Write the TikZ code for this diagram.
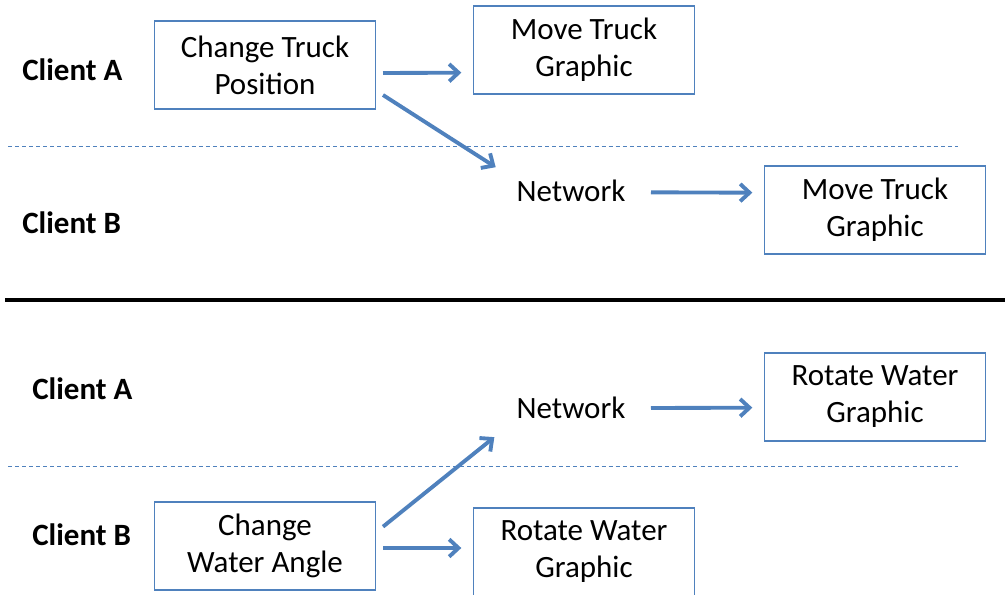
\documentclass[tikz,border=0pt]{standalone}
\usepackage{fontspec}
\setmainfont{Carlito}
\usetikzlibrary{arrows.meta,calc}
\definecolor{obl}{HTML}{4F81BD}
\tikzset{
  box/.style={draw=obl, line width=1pt, minimum width=166pt, minimum height=66pt, align=center, inner sep=0pt, font=\fontsize{23.25}{27.75}\selectfont},
  txt/.style={inner sep=0pt, align=center, font=\fontsize{23.25}{27.75}\selectfont},
  client/.style={inner sep=0pt, anchor=west, font=\fontsize{23.25}{27.75}\selectfont\bfseries},
  flow/.style={draw=obl, line width=2.9pt, -{Straight Barb[length=7pt,width=13pt,line width=2.9pt]}},
  sep/.style={draw=obl, line width=0.75pt, dash pattern=on 3pt off 2.3pt},
}
\begin{document}
\begin{tikzpicture}[x=0.75pt,y=-0.75pt]
\useasboundingbox (0,0) rectangle (1005,594);
% separators
\coordinate (d1l) at (8,146); \coordinate (d1r) at (958,146);
\coordinate (d2l) at (8,466); \coordinate (d2r) at (958,466);
\coordinate (sl) at (5,300); \coordinate (sr) at (1005,300);
\draw[sep] (d1l) -- (d1r);
\draw[sep] (d2l) -- (d2r);
\draw[line width=3pt] (sl) -- (sr);
% top half
\node[client] (ca1) at (22,70) {Client A};
\node[client] (cb1) at (22,223) {Client B};
\node[box] (ctp) at (265,65) {Change Truck\\Position};
\node[box] (mt1) at (584,50) {Move Truck\\Graphic};
\node[txt] (net1) at (571,191) {Network};
\node[box] (mt2) at (875,210) {Move Truck\\Graphic};
\draw[flow] ([xshift=5pt,yshift=-6pt]ctp.east) -- ([xshift=-8.5pt,yshift=-17pt]mt1.west);
\draw[flow] ([xshift=5pt,yshift=-22.5pt]ctp.east) -- ([xshift=-15.5pt,yshift=9.5pt]net1.north west);
\draw[flow] ([xshift=19pt,yshift=-1pt]net1.east) -- ([xshift=-8.5pt,yshift=13pt]mt2.west);
% bottom half
\node[client] (ca2) at (32,389) {Client A};
\node[client] (cb2) at (32,535) {Client B};
\node[box] (cwa) at (265,546) {Change\\Water Angle};
\node[txt] (net2) at (571,408) {Network};
\node[box] (rw1) at (875,397) {Rotate Water\\Graphic};
\node[box] (rw2) at (584,552) {Rotate Water\\Graphic};
\draw[flow] ([xshift=5pt,yshift=14.5pt]cwa.east) -- ([xshift=-16.5pt,yshift=-13.5pt]net2.south west);
\draw[flow] ([xshift=5pt,yshift=-1.5pt]cwa.east) -- ([xshift=-8.5pt,yshift=3pt]rw2.west);
\draw[flow] ([xshift=19pt,yshift=0pt]net2.east) -- ([xshift=-8.5pt,yshift=-8pt]rw1.west);
\end{tikzpicture}
\end{document}
